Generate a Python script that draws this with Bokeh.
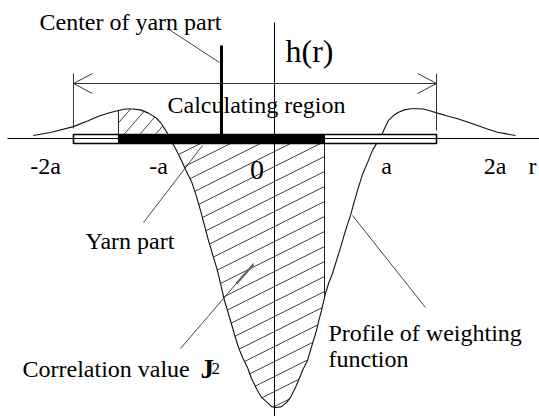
import numpy as np
from bokeh.plotting import figure
from bokeh.models import Range1d, Label
from bokeh.embed import file_html
from bokeh.resources import INLINE

# ---------------- data (r in units of a, h normalised to |h(0)|) ----------------
curve_r = [-2.096, -1.948, -1.748, -1.626, -1.513, -1.426, -1.357, -1.296, -1.235, -1.165,
           -1.096, -1.035, -0.991, -0.957, -0.930, -0.896, -0.861, -0.817, -0.774, -0.722,
           -0.678, -0.643, -0.609, -0.574, -0.530, -0.496, -0.470, -0.435, -0.383, -0.348,
           -0.313, -0.278, -0.235, -0.200, -0.148, -0.113, -0.061, -0.026, 0.017, 0.061,
           0.104, 0.139, 0.174, 0.209, 0.243, 0.287, 0.313, 0.339, 0.365, 0.383,
           0.409, 0.443, 0.470, 0.504, 0.539, 0.574, 0.617, 0.661, 0.696, 0.730,
           0.765, 0.817, 0.852, 0.887, 0.922, 0.957, 0.991, 1.035, 1.078, 1.130,
           1.183, 1.243, 1.296, 1.357, 1.417, 1.504, 1.591, 1.678, 1.765, 1.852,
           1.939, 2.017, 2.096]
curve_h = [0.011, 0.022, 0.044, 0.065, 0.085, 0.096, 0.104, 0.109, 0.109, 0.106,
           0.094, 0.078, 0.059, 0.037, 0.019, -0.011, -0.037, -0.074, -0.115, -0.159,
           -0.215, -0.267, -0.322, -0.378, -0.441, -0.489, -0.537, -0.600, -0.674, -0.726,
           -0.774, -0.811, -0.848, -0.889, -0.933, -0.959, -0.978, -0.993, -0.996, -0.993,
           -0.978, -0.959, -0.930, -0.896, -0.859, -0.822, -0.785, -0.748, -0.711, -0.678,
           -0.637, -0.574, -0.537, -0.500, -0.452, -0.404, -0.341, -0.285, -0.230, -0.181,
           -0.133, -0.081, -0.044, -0.019, 0.004, 0.037, 0.067, 0.085, 0.097, 0.106,
           0.110, 0.110, 0.109, 0.102, 0.094, 0.083, 0.073, 0.061, 0.048, 0.035,
           0.023, 0.017, 0.011]

tick_values = [-2, -1, 0, 1, 2]
tick_labels = ["-2a", "-a", "0", "a", "2a"]

yarn_part = [-1.357, 0.435]      # extent of the yarn part (r/a)
yarn_center = -0.461             # centre of yarn part (r/a)
calc_region = [-1.748, 1.409]    # calculating region (r/a)

# ---------------- scale helpers (page pixels -> data) ----------------
X0, Y0 = 274.0, 138.0     # page pixel of origin
A_PX, H_PX = 115.0, 270.0  # pixels per unit
W, H = 539, 416


def X(px):
    return (px - X0) / A_PX


def Y(py):
    return (Y0 - py) / H_PX


p = figure(width=W, height=H, output_backend="svg", toolbar_location=None,
           x_range=Range1d(X(0), X(W)), y_range=Range1d(Y(H), Y(0)),
           min_border=0)
p.axis.visible = False
p.grid.visible = False
p.outline_line_color = None
p.background_fill_color = "white"
p.border_fill_color = "white"

cr = np.array(curve_r)
ch = np.array(curve_h)


def curve_at(r):
    return float(np.interp(r, cr, ch))


# zero crossing of the curve inside the yarn part (left)
idx = np.where((ch[:-1] > 0) & (ch[1:] <= 0))[0][0]
r_cross = cr[idx] + (cr[idx + 1] - cr[idx]) * ch[idx] / (ch[idx] - ch[idx + 1])
r_left, r_right = yarn_part

# polygons of the hatched area
mask_a = (cr > r_left) & (cr < r_cross)
poly_a_r = [r_left, r_left] + list(cr[mask_a]) + [r_cross]
poly_a_h = [0.0, curve_at(r_left)] + list(ch[mask_a]) + [0.0]
mask_b = (cr > r_cross) & (cr < r_right)
poly_b_r = [r_cross] + list(cr[mask_b]) + [r_right, r_right]
poly_b_h = [0.0] + list(ch[mask_b]) + [curve_at(r_right), 0.0]


def hatch_segments(pr, ph, slope, spacing, phase=0.0):
    px = X0 + np.array(pr) * A_PX
    py = Y0 - np.array(ph) * H_PX
    f = py + slope * px
    cs = np.arange(np.floor(f.min() / spacing) * spacing + phase, f.max(), spacing)
    out = ([], [], [], [])
    n = len(px)
    for c in cs:
        pts = []
        for i in range(n):
            j = (i + 1) % n
            a, b = f[i] - c, f[j] - c
            if (a < 0) != (b < 0):
                t = a / (a - b)
                pts.append(px[i] + t * (px[j] - px[i]))
        pts.sort()
        for k in range(0, len(pts) - 1, 2):
            x1, x2 = pts[k], pts[k + 1]
            out[0].append(X(x1)); out[1].append(Y(c - slope * x1))
            out[2].append(X(x2)); out[3].append(Y(c - slope * x2))
    return out


ha = hatch_segments(poly_a_r, poly_a_h, 1.15, 18.0, 6.0)
hb = hatch_segments(poly_b_r, poly_b_h, 0.5, 15.0, 3.0)
p.segment(ha[0], ha[1], ha[2], ha[3], line_color="#444444", line_width=1)
p.segment(hb[0], hb[1], hb[2], hb[3], line_color="#444444", line_width=1)

# boundaries of the yarn-part area
p.segment([r_left, r_right], [0.0, 0.0], [r_left, r_right],
          [curve_at(r_left), curve_at(r_right)], line_color="#222222", line_width=1)

# weighting function profile
p.line(curve_r, curve_h, line_color="#111111", line_width=1.1)

# axes
p.segment([X(7)], [0.0], [X(545)], [0.0], line_color="black", line_width=1)
p.segment([0.0], [Y(22)], [0.0], [Y(420)], line_color="black", line_width=1)

# calculating-region bar (white) and yarn part (black)
bar_top, bar_bot = Y(134), Y(143)
p.quad(left=[calc_region[0]], right=[calc_region[1]], top=[bar_top], bottom=[bar_bot],
       fill_color="white", line_color="black", line_width=1.6)
p.segment([calc_region[0]], [0.0], [calc_region[1]], [0.0], line_color="black", line_width=1)
p.quad(left=[yarn_part[0]], right=[yarn_part[1]], top=[bar_top], bottom=[bar_bot],
       fill_color="black", line_color="black", line_width=1)

# centre of yarn part marker
p.segment([yarn_center], [bar_top], [yarn_center], [Y(45)], line_color="black", line_width=3)

# dimension line of calculating region
dim_y = Y(83)
p.segment([calc_region[0], calc_region[0], calc_region[1]],
          [dim_y, Y(73), Y(73)],
          [calc_region[1], calc_region[0], calc_region[1]],
          [dim_y, Y(128), Y(130)], line_color="#333333", line_width=1)
ah_len, ah_w = 19.0 / A_PX, 10.0 / H_PX
p.segment([calc_region[0]] * 2 + [calc_region[1]] * 2, [dim_y] * 4,
          [calc_region[0] + ah_len, calc_region[0] + ah_len,
           calc_region[1] - ah_len, calc_region[1] - ah_len],
          [dim_y + ah_w, dim_y - ah_w, dim_y + ah_w, dim_y - ah_w],
          line_color="#333333", line_width=1)

# pointer lines
p.segment([X(167), X(143), X(180), X(352)], [Y(28), Y(222), Y(348), Y(215)],
          [X(219), X(202), X(253), X(425)], [Y(62), Y(145), Y(263), Y(307)],
          line_color="#444444", line_width=1)
p.segment([X(236)], [Y(283)], [X(253)], [Y(264)], line_color="#666666", line_width=2.2)

SERIF = "Liberation Serif"


def label(px, py, text, size, font=SERIF, style="normal", align="left"):
    p.add_layout(Label(x=X(px), y=Y(py), text=text, text_font=font,
                       text_font_size=size, text_font_style=style,
                       text_align=align, text_baseline="alphabetic",
                       text_color="black"))


label(39, 21, "Center of yarn part", "24px")
label(285, 50, "h(r)", "32px")
label(167, 104, "Calculating region", "24px")
label(85, 240, "Yarn part", "24px")
label(22, 368, "Correlation value", "24px")
label(200, 368, "J", "27px", style="bold")
label(211, 368, "2", "17px")
label(328, 332, "Profile of weighting", "24px")
label(328, 358, "function", "24px")

# tick labels on the r axis
tick_dx = [1, -1, -17.5, -3, -9.5]
for tv, tl, dx in zip(tick_values, tick_labels, tick_dx):
    cx = X0 + tv * A_PX + dx
    if tl == "0":
        label(cx, 169, tl, "28px", align="center")
    else:
        label(cx, 165, tl, "24px", align="center")
label(532, 165, "r", "24px", align="center")

open("out.html", "w").write(file_html(p, INLINE))
